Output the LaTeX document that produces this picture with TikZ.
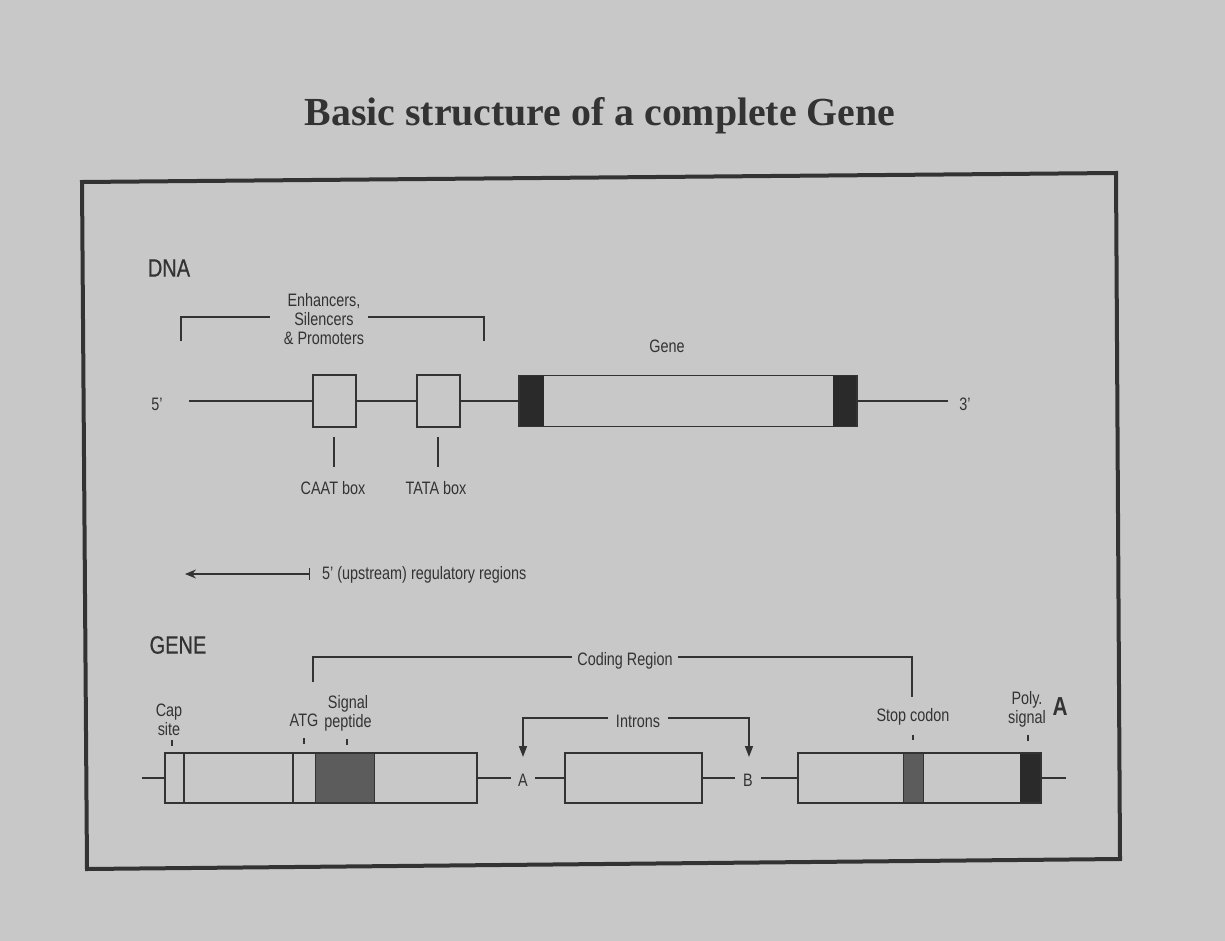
\documentclass[tikz,border=0pt]{standalone}
\usepackage{fontspec}
\usetikzlibrary{arrows.meta}
\newfontfamily\labfont[FakeStretch=0.8]{Liberation Sans}
\newfontfamily\hdrfont[FakeStretch=0.8,FakeBold=0.6]{Liberation Sans}
\newfontfamily\titlefont{Liberation Serif}
\definecolor{bg}{HTML}{C8C8C8}
\definecolor{ink}{HTML}{333333}
\definecolor{dark}{HTML}{2A2A2A}
\definecolor{stip}{HTML}{5C5C5C}
\begin{document}
\begin{tikzpicture}[x=1pt,y=-1pt,
  inkline/.style={draw=ink,line width=1.5pt},
  tickline/.style={draw=ink,line width=1.3pt},
  lbl/.style={font=\labfont\fontsize{18}{19}\selectfont,text=ink,inner sep=0pt,align=center},
  hdr/.style={font=\hdrfont\fontsize{25}{26}\selectfont,text=ink,inner sep=0pt},
  seg/.style={draw=ink,line width=1.5pt,inner sep=0pt,outer sep=0pt},
  blk/.style={fill=dark,draw=dark,line width=1pt,inner sep=0pt,outer sep=0pt},
  stp/.style={fill=stip,draw=ink,line width=1pt,inner sep=0pt,outer sep=0pt},
  downarrow/.style={inkline,-{Triangle[width=8pt,length=11pt]}}
]
\useasboundingbox (0,0) rectangle (1225,941);
\fill[bg] (0,0) rectangle (1225,941);

% title
\node[font=\titlefont\bfseries\fontsize{39.8}{42}\selectfont,text=ink,inner sep=0pt,anchor=base] (title) at (600,126) {Basic structure of a complete Gene};

% frame
\draw[draw=ink,line width=4pt,line join=miter] (82,182) -- (1116,173) -- (1120,859) -- (87,869) -- cycle;

% ---------------- DNA ----------------
\node[hdr] (dna) at (169,268) {DNA};

\node[lbl] (enh) at (324,319) {Enhancers,\\Silencers\\\& Promoters};
\coordinate (eL0) at (181,341);
\coordinate (eL1) at (181,317);
\coordinate (eL2) at (270,317);
\coordinate (eR0) at (368,317);
\coordinate (eR1) at (484,317);
\coordinate (eR2) at (484,341);
\draw[inkline] (eL0) -- (eL1) -- (eL2);
\draw[inkline] (eR0) -- (eR1) -- (eR2);

\node[lbl] (five) at (157,404) {5’};
\coordinate (d5) at (189,401);
\node[seg,minimum width=43pt,minimum height=52pt] (caat) at (334.5,401) {};
\node[seg,minimum width=43pt,minimum height=52pt] (tata) at (438.5,401) {};
\node[blk,minimum width=24pt,minimum height=51pt] (gL) at (531,401) {};
\node[blk,minimum width=24pt,minimum height=51pt] (gR) at (845,401) {};
\node[seg,minimum width=338pt,minimum height=51pt] (gene) at (688,401) {};
\coordinate (d3) at (948,401);
\node[lbl] (three) at (965,404) {3’};
\node[lbl] (genelbl) at (667,346) {Gene};

\draw[inkline] (d5) -- (caat.west);
\draw[inkline] (caat.east) -- (tata.west);
\draw[inkline] (tata.east) -- (gene.west);
\draw[inkline] (gene.east) -- (d3);

\coordinate (ct0) at (334,437);
\coordinate (ct1) at (334,467);
\coordinate (tt0) at (438,437);
\coordinate (tt1) at (438,467);
\draw[tickline] (ct0) -- (ct1);
\draw[tickline] (tt0) -- (tt1);
\node[lbl] (caatlbl) at (333,488) {CAAT box};
\node[lbl] (tatalbl) at (436,488) {TATA box};

% upstream arrow
\coordinate (up0) at (310,574);
\coordinate (up1) at (185,574);
\draw[inkline,{Bar[width=12pt]}-{Stealth[length=11pt,width=9pt]}] (up0) -- (up1);
\node[lbl,anchor=west] (uplbl) at (322,575) {5’ (upstream) regulatory regions};

% ---------------- GENE ----------------
\node[hdr] (genehdr) at (178,645) {GENE};

% coding region bracket
\node[lbl] (coding) at (625,661) {Coding Region};
\coordinate (cL0) at (313,682);
\coordinate (cL1) at (313,657);
\coordinate (cL2) at (572,657);
\coordinate (cR0) at (678,657);
\coordinate (cR1) at (912,657);
\coordinate (cR2) at (912,697);
\draw[inkline] (cL0) -- (cL1) -- (cL2);
\draw[inkline] (cR0) -- (cR1) -- (cR2);

% introns bracket
\node[lbl] (introns) at (638,721) {Introns};
\coordinate (iL0) at (608,718);
\coordinate (iL1) at (523,718);
\coordinate (iL2) at (523,757);
\coordinate (iR0) at (668,718);
\coordinate (iR1) at (749,718);
\coordinate (iR2) at (749,757);
\draw[downarrow] (iL0) -- (iL1) -- (iL2);
\draw[downarrow] (iR0) -- (iR1) -- (iR2);

% gene row
\coordinate (g0) at (142,778);
\node[stp,minimum width=59pt,minimum height=50pt] (sig) at (344.5,778) {};
\node[seg,minimum width=312pt,minimum height=50pt] (ex1) at (321,778) {};
\draw[inkline] (184,753) -- (184,803);
\draw[inkline] (293,753) -- (293,803);

\node[lbl,inner xsep=7pt] (iA) at (523,780) {A};
\node[seg,minimum width=137pt,minimum height=50pt] (ex2) at (633.5,778) {};
\node[lbl,inner xsep=8pt] (iB) at (748,780) {B};

\node[stp,minimum width=20pt,minimum height=50pt] (stop) at (913,778) {};
\node[blk,minimum width=21pt,minimum height=50pt] (poly) at (1030.5,778) {};
\node[seg,minimum width=243pt,minimum height=50pt] (ex3) at (919.5,778) {};
\coordinate (g1) at (1066,778);

\draw[inkline] (g0) -- (ex1.west);
\draw[inkline] (ex1.east) -- (ex1.east -| iA.west);
\draw[inkline] (ex2.west -| iA.east) -- (ex2.west);
\draw[inkline] (ex2.east) -- (ex2.east -| iB.west);
\draw[inkline] (ex3.west -| iB.east) -- (ex3.west);
\draw[inkline] (ex3.east) -- (g1);

% labels above gene row
\node[lbl] (cap) at (169,720) {Cap\\site};
\node[lbl] (atg) at (304,720) {ATG};
\node[lbl] (signal) at (348,713) {Signal\\peptide};
\node[lbl] (stoplbl) at (913,717) {Stop codon};
\node[lbl] (polylbl) at (1027,709) {Poly.\\signal};
\node[font=\labfont\bfseries\fontsize{26}{27}\selectfont,text=ink,inner sep=0pt] (bigA) at (1060,707) {A};

\draw[tickline] (172,740) -- (172,746);
\draw[tickline] (304,738) -- (304,744);
\draw[tickline] (347,739) -- (347,745);
\draw[tickline] (913,735) -- (913,740);
\draw[tickline] (1028,735) -- (1028,741);
\end{tikzpicture}
\end{document}
